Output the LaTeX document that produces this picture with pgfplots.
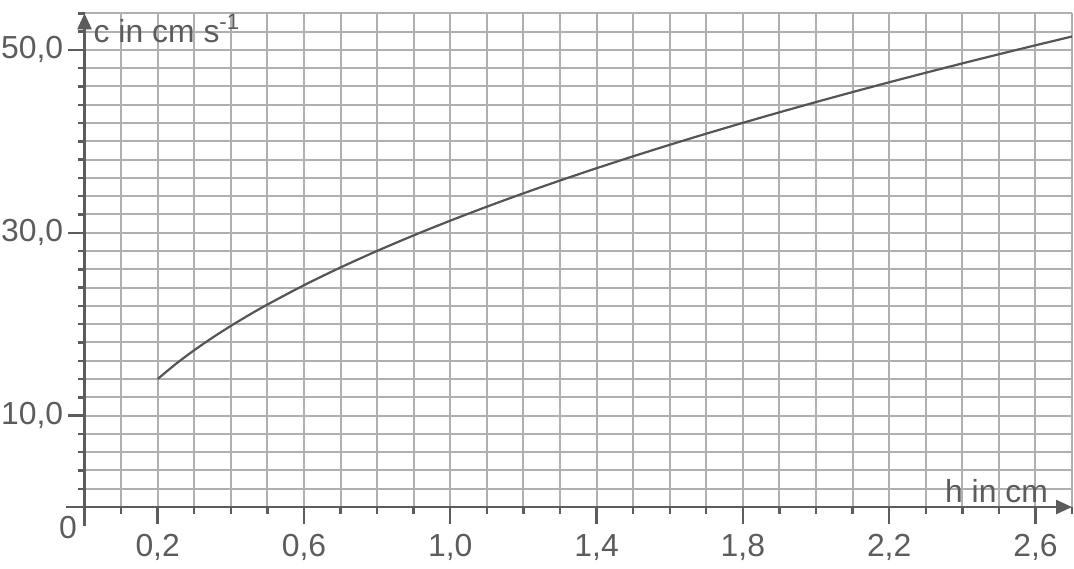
\documentclass[border=0pt]{standalone}
\usepackage{fontspec}
\setmainfont{Liberation Sans}
\usepackage{pgfplots}
\pgfplotsset{compat=1.18}
\usetikzlibrary{arrows.meta}

\definecolor{axisgray}{HTML}{5C5C5C}
\definecolor{gridgray}{HTML}{B0B0B0}
\definecolor{curvegray}{HTML}{555555}

\begin{document}
\begin{tikzpicture}
\begin{axis}[
    scale only axis,
    width=493.75bp, height=246.85bp,
    xmin=0, xmax=2.7, ymin=0, ymax=54,
    axis x line*=bottom, axis y line*=left,
    x axis line style={-{Triangle[length=8bp,width=7bp]}, shorten <=-9.5bp},
    y axis line style={-{Triangle[length=8bp,width=7bp]}, shorten <=-9.5bp},
    axis line style={line width=1.2bp, axisgray},
    clip=false,
    xtick={0.2,0.6,1.0,1.4,1.8,2.2,2.6},
    minor xtick={0.1,0.3,0.4,0.5,0.7,0.8,0.9,1.1,1.2,1.3,1.5,1.6,1.7,1.9,2.0,2.1,2.3,2.4,2.5,2.7},
    ytick={10,30,50},
    minor ytick={2,4,6,8,12,14,16,18,20,22,24,26,28,32,34,36,38,40,42,44,46,48,52,54},
    xmajorgrids, xminorgrids, ymajorgrids, yminorgrids,
    major grid style={gridgray, line width=1bp},
    minor grid style={gridgray, line width=1bp},
    tick align=outside,
    tick style={axisgray, line width=1.2bp},
    major tick length=8.5bp, minor tick length=3.5bp,
    every tick label/.append style={font=\fontsize{16}{19}\selectfont, text=axisgray},
    xticklabel style={anchor=north, inner sep=0pt, yshift=-5bp},
    yticklabel style={anchor=east, inner sep=0pt, xshift=-2bp},
    /pgf/number format/.cd, use comma, fixed, fixed zerofill, precision=1, assume math mode=true,
]
\addplot[curvegray, line width=1.1bp, smooth, no marks] coordinates {
    (0.20,14.007) (0.25,15.660) (0.30,17.155) (0.35,18.530) (0.40,19.809)
    (0.45,21.011) (0.50,22.147) (0.60,24.261) (0.70,26.205) (0.80,28.014)
    (0.90,29.714) (1.00,31.321) (1.10,32.850) (1.20,34.311) (1.30,35.711)
    (1.40,37.059) (1.50,38.360) (1.60,39.618) (1.70,40.838) (1.80,42.021)
    (1.90,43.173) (2.00,44.294) (2.10,45.388) (2.20,46.457) (2.30,47.501)
    (2.40,48.522) (2.50,49.523) (2.60,50.503) (2.70,51.466)
};
\node[anchor=base west, inner sep=0pt, font=\fontsize{16}{19}\selectfont, text=axisgray]
    at (axis cs:0.024,50.85) {c in cm s\textsuperscript{-1}};
\node[anchor=base west, inner sep=0pt, font=\fontsize{16}{19}\selectfont, text=axisgray]
    at (axis cs:2.352,0.45) {h in cm};
\node[inner sep=0pt, font=\fontsize{16}{19}\selectfont, text=axisgray]
    at (axis cs:-0.045,-2.19) {0};
\coordinate (bl) at (rel axis cs:-0.0856,-0.1236);
\coordinate (tr) at (rel axis cs:1.002,1.027);
\end{axis}
\pgfresetboundingbox
\path[use as bounding box] (bl) rectangle (tr);
\end{tikzpicture}
\end{document}
